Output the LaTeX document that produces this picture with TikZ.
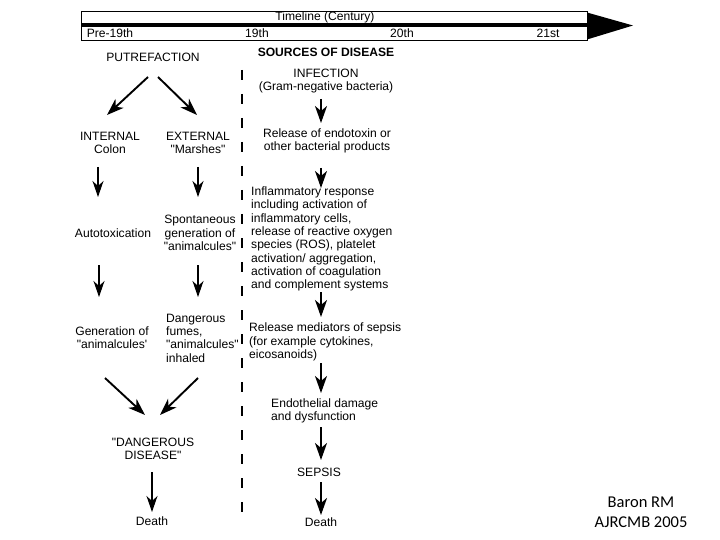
\documentclass[tikz,border=0pt]{standalone}
\usepackage{fontspec}
\setmainfont{Liberation Sans}[Ligatures=TeXOff]
\newfontfamily\carlito{Carlito}
\usetikzlibrary{arrows.meta,calc}
\tikzset{
  lbl/.style={inner sep=0pt, font=\fontsize{12.1}{13.3}\selectfont, align=center},
  lbll/.style={inner sep=0pt, font=\fontsize{12.1}{13.3}\selectfont, align=left, anchor=west},
  thinarr/.style={line width=1.1pt, -{Stealth[length=16pt,width=11pt,inset=5pt]}},
  thickarr/.style={line width=1.9pt, -{Stealth[length=17pt,width=12pt,inset=5pt]}},
}
\begin{document}
\begin{tikzpicture}[x=1pt,y=-1pt]
\useasboundingbox[fill=white] (0,0) rectangle (720,540);
% timeline
\draw[line width=0.9pt] (81,11) rectangle (587,40);
\fill (81,23.3) rectangle (587,27.3);
\fill (587,12.5) -- (633,25.5) -- (587,39.5) -- cycle;
\node[lbl] (tltitle) at (325,17) {Timeline (Century)};
\node[lbl] (tpre) at (110,33) {Pre-19th};
\node[lbl] (t19) at (257,33) {19th};
\node[lbl] (t20) at (402,33) {20th};
\node[lbl] (t21) at (548,33) {21st};
% divider
\draw[line width=1.3pt, dash pattern=on 10pt off 14pt] (242,70) -- (242,522);
% left column
\node[lbl] (putref) at (153,57) {PUTREFACTION};
\node[lbl] (internal) at (110,143) {INTERNAL\\Colon};
\node[lbl] (external) at (198,143) {EXTERNAL\\"Marshes"};
\node[lbl] (auto) at (113,233) {Autotoxication};
\node[lbl] (spont) at (200,233) {Spontaneous\\generation of\\"animalcules"};
\node[lbl] (genan) at (112,338) {Generation of\\"animalcules'};
\node[lbll] (dang) at (166,338) {Dangerous\\fumes,\\"animalcules"\\inhaled};
\node[lbl] (dd) at (153,449) {"DANGEROUS\\DISEASE"};
\node[lbl] (death1) at (152,521) {Death};
\draw[thickarr] ($(putref)+(-5,20)$) -- ($(internal)+(-3,-28)$);
\draw[thickarr] ($(putref)+(5,20)$) -- ($(external)+(-1,-28)$);
\draw[thinarr] ($(internal)+(-12,24)$) -- ($(auto)+(-15,-36)$);
\draw[thinarr] ($(external)+(0,24)$) -- ($(spont)+(-2,-36)$);
\draw[thinarr] ($(auto)+(-14,32)$) -- ($(genan)+(-13,-41)$);
\draw[thinarr] ($(spont)+(-2,32)$) -- ($(dang.west)+(32,-41)$);
\draw[thickarr] ($(genan)+(-7,40)$) -- ($(dd)+(-8,-34)$);
\draw[thickarr] ($(dang.west)+(32,40)$) -- ($(dd)+(7,-34)$);
\draw[thinarr] ($(dd)+(-1,23)$) -- ($(death1)+(0,-9)$);
% right column
\node[lbl, font=\fontsize{12.1}{13.3}\selectfont\bfseries] (sources) at (326,52) {SOURCES OF DISEASE};
\node[lbl] (infection) at (326,81) {INFECTION\\(Gram-negative bacteria)};
\node[lbl] (endo) at (327,141) {Release of endotoxin or\\other bacterial products};
\node[lbll] (inflam) at (251,239) {Inflammatory response\\including activation of\\inflammatory cells,\\release of reactive oxygen\\species (ROS), platelet\\activation/ aggregation,\\activation of coagulation\\and complement systems};
\node[lbll] (med) at (249,342) {Release mediators of sepsis\\(for example cytokines,\\eicosanoids)};
\node[lbll] (endoth) at (271,411) {Endothelial damage\\and dysfunction};
\node[lbl] (sepsis) at (319,472) {SEPSIS};
\node[lbl] (death2) at (321,522) {Death};
\draw[thickarr] ($(infection)+(-5,18)$) -- ($(endo)+(-6,-18)$);
\draw[thickarr] ($(endo)+(-6,27)$) -- ($(inflam.west)+(70,-51)$);
\draw[thickarr] ($(inflam.west)+(70,53)$) -- ($(med.west)+(72,-25)$);
\draw[thickarr] ($(med.west)+(72,21)$) -- ($(endoth.west)+(50,-18)$);
\draw[thickarr] ($(endoth.west)+(50,16)$) -- ($(sepsis)+(2,-12)$);
\draw[thickarr] ($(sepsis)+(2,10)$) -- ($(death2)+(0,-7)$);
% credit
\node[inner sep=0pt, align=center, font=\carlito\fontsize{16.5}{20}\selectfont] (credit) at (641,512) {Baron RM\\AJRCMB 2005};
\end{tikzpicture}
\end{document}
